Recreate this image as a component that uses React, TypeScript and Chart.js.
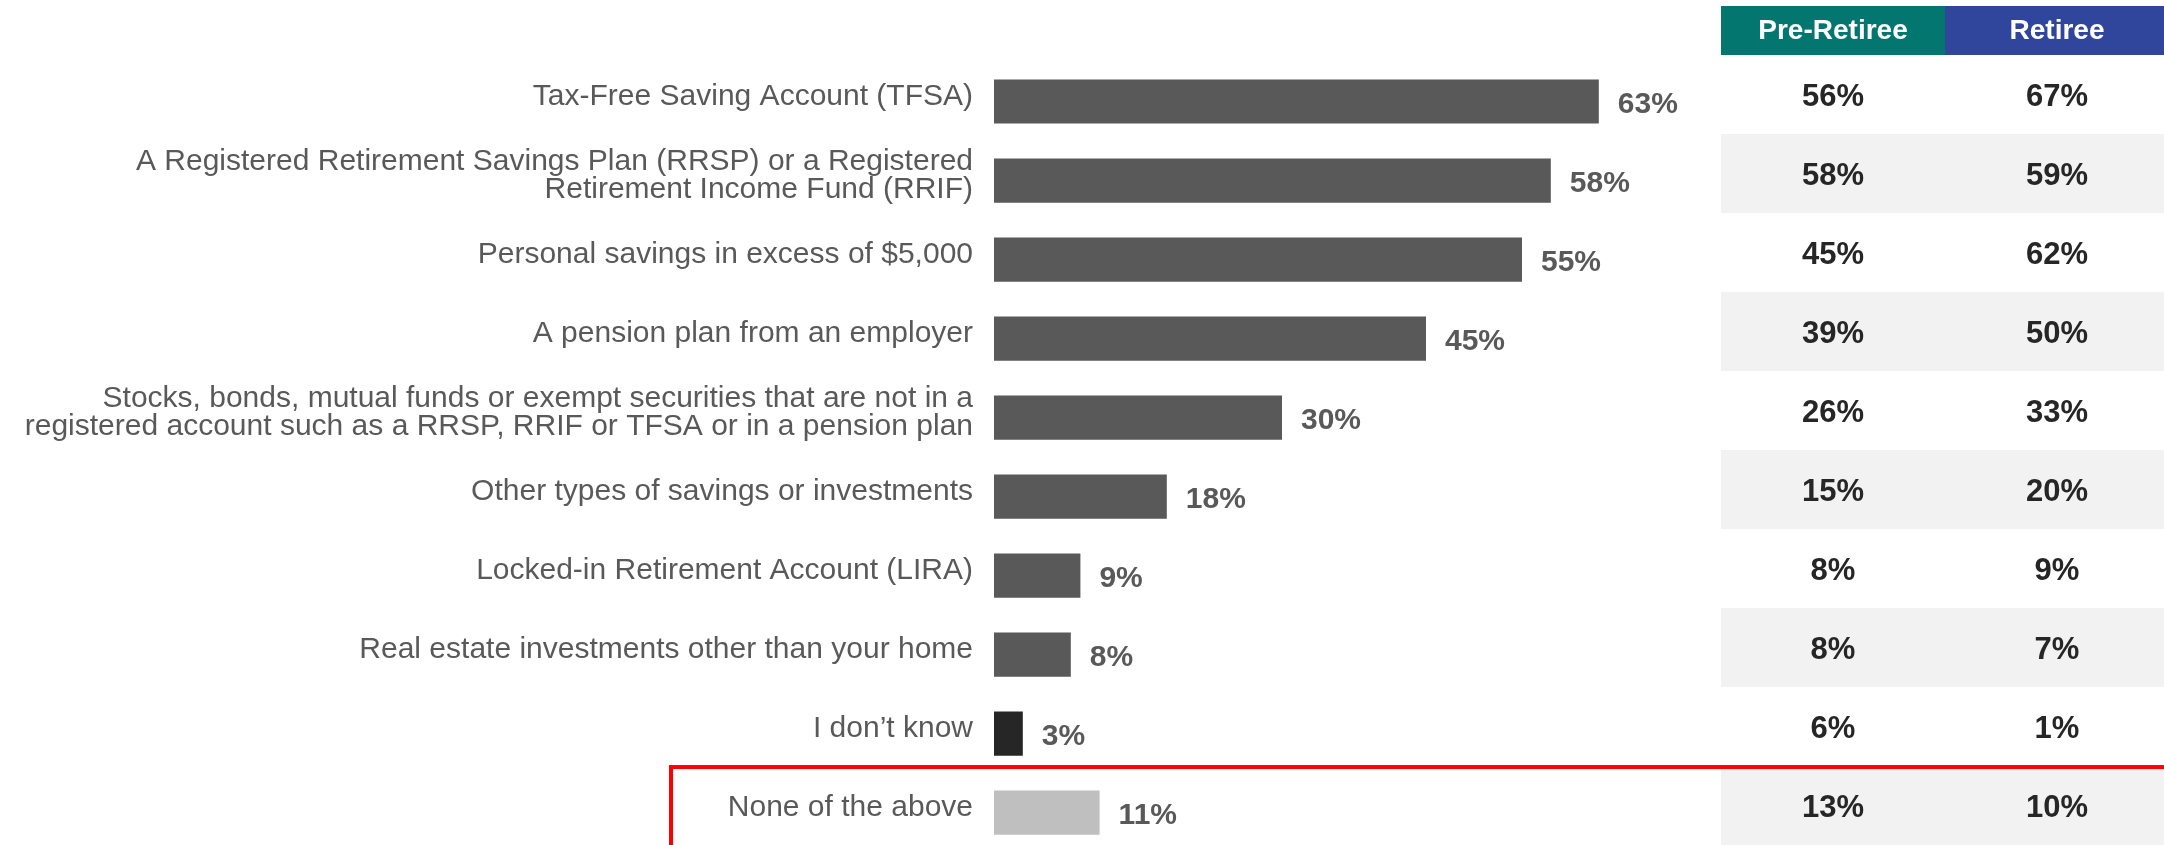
import React, { useEffect, useRef } from "react";
import { Chart, registerables } from "chart.js";

Chart.register(...registerables);

const categories: (string | string[])[] = [
  "Tax-Free Saving Account (TFSA)",
  ["A Registered Retirement Savings Plan (RRSP) or a Registered", "Retirement Income Fund (RRIF)"],
  "Personal savings in excess of $5,000",
  "A pension plan from an employer",
  [
    "Stocks, bonds, mutual funds or exempt securities that are not in a",
    "registered account such as a RRSP, RRIF or TFSA or in a pension plan",
  ],
  "Other types of savings or investments",
  "Locked-in Retirement Account (LIRA)",
  "Real estate investments other than your home",
  "I don\u2019t know",
  "None of the above",
];

const totalValues = [63, 58, 55, 45, 30, 18, 9, 8, 3, 11];
const preRetireeValues = [56, 58, 45, 39, 26, 15, 8, 8, 6, 13];
const retireeValues = [67, 59, 62, 50, 33, 20, 9, 7, 1, 10];
const tableHeaders = ["Pre-Retiree", "Retiree"];

const barColors = [
  "#595959", "#595959", "#595959", "#595959", "#595959",
  "#595959", "#595959", "#595959", "#262626", "#BFBFBF",
];

const FONT = "'Liberation Sans', Arial, sans-serif";
const CANVAS_W = 2164;
const CANVAS_H = 887;

export default function App() {
  const ref = useRef<HTMLCanvasElement | null>(null);

  useEffect(() => {
    document.body.style.margin = "0";
    document.body.style.overflow = "hidden";
    document.documentElement.style.overflow = "hidden";
    const canvas = ref.current;
    if (!canvas) return;

    const labelPlugin = {
      id: "valueLabels",
      afterDatasetsDraw(chart: any) {
        const ctx = chart.ctx;
        const meta = chart.getDatasetMeta(0);
        ctx.save();
        ctx.font = `bold 30px ${FONT}`;
        ctx.fillStyle = "#595959";
        ctx.textAlign = "left";
        ctx.textBaseline = "middle";
        meta.data.forEach((bar: any, i: number) => {
          ctx.fillText(`${totalValues[i]}%`, bar.x + 19, bar.y + 3);
        });
        ctx.restore();
      },
    };

    const tablePlugin = {
      id: "sideTable",
      afterDraw(chart: any) {
        const ctx = chart.ctx;
        const yScale = chart.scales.y;
        const step = yScale.getPixelForValue(1) - yScale.getPixelForValue(0);
        const shift = -7;
        const col1L = 1721, col1R = 1945, col2L = 1945, col2R = CANVAS_W;
        const c1 = (col1L + col1R) / 2;
        const c2 = 2057;
        ctx.save();
        const firstTop = yScale.getPixelForValue(0) + shift - step / 2;
        // header
        ctx.fillStyle = "#03766F";
        ctx.fillRect(col1L, 6, col1R - col1L, firstTop - 6);
        ctx.fillStyle = "#30469C";
        ctx.fillRect(col2L, 6, col2R - col2L, firstTop - 6);
        ctx.fillStyle = "#FFFFFF";
        ctx.font = `bold 28px ${FONT}`;
        ctx.textAlign = "center";
        ctx.textBaseline = "middle";
        ctx.fillText(tableHeaders[0], c1, (6 + firstTop) / 2 + 1);
        ctx.fillText(tableHeaders[1], c2, (6 + firstTop) / 2 + 1);
        // rows
        for (let i = 0; i < categories.length; i++) {
          const cy = yScale.getPixelForValue(i) + shift;
          if (i % 2 === 1) {
            ctx.fillStyle = "#F2F2F2";
            ctx.fillRect(col1L, cy - step / 2, col2R - col1L, step);
          }
          ctx.fillStyle = "#262626";
          ctx.font = `bold 31px ${FONT}`;
          ctx.fillText(`${preRetireeValues[i]}%`, c1, cy + 3);
          ctx.fillText(`${retireeValues[i]}%`, c2, cy + 3);
        }
        // red highlight box around last row
        const lastTop = yScale.getPixelForValue(categories.length - 1) + shift - step / 2;
        ctx.strokeStyle = "#FF0000";
        ctx.lineWidth = 4;
        ctx.strokeRect(671, lastTop + 1, 2000, 300);
        ctx.restore();
      },
    };

    const chart = new Chart(canvas, {
      type: "bar",
      data: {
        labels: categories as any,
        datasets: [
          {
            data: totalValues,
            backgroundColor: barColors,
            borderWidth: 0,
            barPercentage: 0.56,
            categoryPercentage: 1,
          },
        ],
      },
      options: {
        indexAxis: "y",
        responsive: false,
        maintainAspectRatio: false,
        animation: false,
        layout: { padding: { top: 62, bottom: 6, left: 0, right: CANVAS_W - 1714 } },
        plugins: {
          legend: { display: false },
          tooltip: { enabled: false },
          title: { display: false },
        },
        scales: {
          x: {
            display: false,
            min: 0,
            max: 75,
          },
          y: {
            grid: { display: false, drawTicks: false },
            border: { display: false },
            ticks: {
              autoSkip: false,
              padding: 21,
              labelOffset: -5,
              color: "#595959",
              font: { family: FONT, size: 30, lineHeight: 0.93 },
            },
            afterFit(scale: any) {
              scale.width = 994;
            },
          },
        },
      },
      plugins: [labelPlugin, tablePlugin],
    });

    return () => chart.destroy();
  }, []);

  return (
    <div style={{ width: CANVAS_W, height: 845, overflow: "hidden", position: "relative", background: "#fff" }}>
      <canvas ref={ref} width={CANVAS_W} height={CANVAS_H} style={{ width: CANVAS_W, height: CANVAS_H, display: "block" }} />
    </div>
  );
}
